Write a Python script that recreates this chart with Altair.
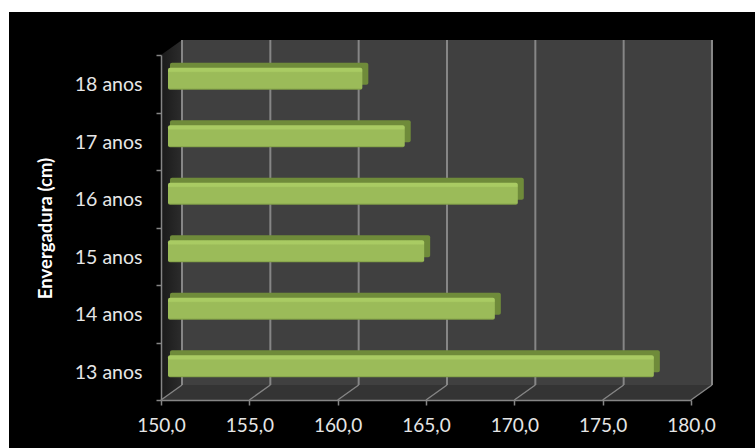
import altair as alt
import pandas as pd

# Wingspan by age
idades = ["18 anos", "17 anos", "16 anos", "15 anos", "14 anos", "13 anos"]
envergadura = [161.0, 163.4, 169.8, 164.5, 168.5, 177.5]
ticks_x = [150, 155, 160, 165, 170, 175, 180]

W, H = 530, 345
DX, DY = 21, 15          # depth of the back wall relative to the front axes
FONT = "Lato"
GRID = "#868686"

bars = pd.DataFrame({"idade": idades, "valor": envergadura, "base": [150.0] * len(idades)})
grid = pd.DataFrame({"t": ticks_x})

x_scale = alt.Scale(domain=[150, 180], nice=False, zero=False)
y_scale = alt.Scale(domain=idades, paddingInner=0, paddingOuter=0)

# Black panel behind the whole chart
panel = alt.Chart(bars.head(1)).mark_rect(color="#000000").encode(
    x=alt.value(-152), x2=alt.value(594), y=alt.value(-43), y2=alt.value(393)
)

# Back wall
wall = alt.Chart(bars.head(1)).mark_rect(color="#404040").encode(
    x=alt.value(DX), x2=alt.value(W + DX), y=alt.value(-DY), y2=alt.value(H - DY)
)

# Left side wall and floor of the box
left_wall = alt.Chart(pd.DataFrame({
    "px": [0, DX], "top": [0, -DY], "bottom": [H, H - DY]
})).mark_area(
    fill=alt.Gradient(
        gradient="linear", x1=1, y1=0, x2=0, y2=0,
        stops=[alt.GradientStop(offset=0, color="#2c2c2c"),
               alt.GradientStop(offset=1, color="#1a1a1a")],
    )
).encode(
    x=alt.X("px:Q", scale=None, axis=None),
    y=alt.Y("top:Q", scale=None, axis=None),
    y2="bottom:Q",
)

floor = alt.Chart(pd.DataFrame({
    "py": [H - DY, H], "left": [DX, 0], "right": [W + DX, W]
})).mark_area(orient="horizontal", color="#343434").encode(
    y=alt.Y("py:Q", scale=None, axis=None),
    x=alt.X("left:Q", scale=None, axis=None),
    x2="right:Q",
)

# Grid lines on the back wall and their slanted continuation on the floor
back_grid = alt.Chart(grid).mark_rule(color=GRID, strokeWidth=2, xOffset=DX).encode(
    x=alt.X("t:Q", scale=x_scale, axis=None),
    y=alt.value(-DY), y2=alt.value(H - DY),
)
floor_grid = alt.Chart(grid).mark_rule(color=GRID, strokeWidth=1.4, x2Offset=DX).encode(
    x=alt.X("t:Q", scale=x_scale, axis=None),
    x2="t:Q",
    y=alt.value(H), y2=alt.value(H - DY),
)

# Bars: the darker box top and side sit behind the gradient front face
bar_back = alt.Chart(bars).mark_bar(
    size=22, color="#6f8b3a", cornerRadius=2,
    xOffset=13, x2Offset=9, yOffset=-10,
).encode(
    y=alt.Y("idade:N", sort=idades, scale=y_scale, axis=None),
    x=alt.X("valor:Q", scale=x_scale, axis=None),
    x2="base:Q",
)
bar_front = alt.Chart(bars).mark_bar(
    size=22, cornerRadius=2, xOffset=7, x2Offset=7, yOffset=-5,
    fill=alt.Gradient(
        gradient="linear", x1=0, y1=0, x2=0, y2=1,
        stops=[alt.GradientStop(offset=0, color="#a9cb63"),
               alt.GradientStop(offset=0.16, color="#a9cb63"),
               alt.GradientStop(offset=0.22, color="#9bbb59"),
               alt.GradientStop(offset=0.92, color="#9bbb59"),
               alt.GradientStop(offset=1, color="#7d9a44")],
    ),
).encode(
    y=alt.Y("idade:N", sort=idades, scale=y_scale, axis=None),
    x=alt.X("valor:Q", scale=x_scale, axis=None),
    x2="base:Q",
)

# Front axes drawn on an invisible layer, raised above the panel
axes = alt.Chart(bars).mark_bar(opacity=0).encode(
    y=alt.Y(
        "idade:N", sort=idades, scale=y_scale,
        axis=alt.Axis(
            title="Envergadura (cm)", titleColor="#ffffff", titleFont=FONT, titleFontSize=18.5,
            titleFontWeight="bold", titleAngle=-90, titleX=-116, titleY=173,
            titleAlign="center", titleBaseline="middle",
            labelColor="#e6e6e6", labelFont=FONT, labelFontSize=19.5, labelPadding=14,
            labelOffset=1, domainColor=GRID, domainWidth=1.5, tickColor=GRID, tickWidth=1.5,
            tickSize=5, tickBand="extent", grid=False, zindex=1,
        ),
    ),
    x=alt.X(
        "valor:Q", scale=x_scale,
        axis=alt.Axis(
            title=None, values=ticks_x, labelColor="#e6e6e6", labelFont=FONT, labelFontSize=19,
            labelPadding=11, labelFlush=False, domainColor=GRID, domainWidth=1.5,
            tickColor=GRID, tickWidth=1.5, tickSize=5, grid=False, zindex=1,
            labelExpr="replace(format(datum.value, '.1f'), '.', ',')",
        ),
    ),
    x2="base:Q",
)

chart = alt.layer(
    panel, left_wall, wall, floor, back_grid, floor_grid, bar_back, bar_front, axes
).resolve_scale(x="independent", y="independent").properties(
    width=W, height=H,
    background="#ffffff",
    padding={"left": 161, "top": 55, "right": 64, "bottom": 48},
    autosize=alt.AutoSizeParams(type="none"),
).configure_view(stroke=None)

chart.save("out.html", embed_options={"renderer": "svg", "actions": False})
